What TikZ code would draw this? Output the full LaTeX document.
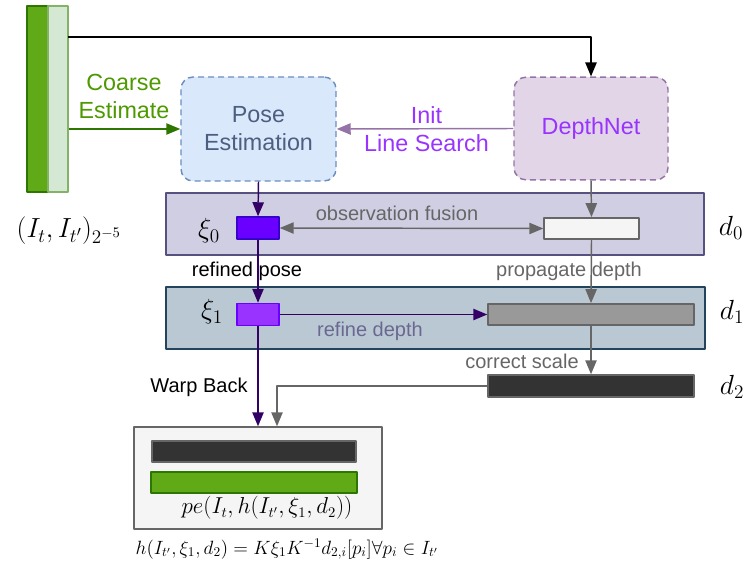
\documentclass[tikz,border=0pt]{standalone}
\usepackage{fontspec}
\setmainfont{Liberation Sans}
\usetikzlibrary{arrows.meta}

\definecolor{cgreen}{HTML}{60A917}
\definecolor{cgreenD}{HTML}{2D7600}
\definecolor{clight}{HTML}{D5E8D4}
\definecolor{clightD}{HTML}{82B366}
\definecolor{ccoarse}{HTML}{4D9900}
\definecolor{cblue}{HTML}{DAE8FC}
\definecolor{cblueD}{HTML}{6C8EBF}
\definecolor{cposeT}{HTML}{4D5F80}
\definecolor{cpurp}{HTML}{E1D5E7}
\definecolor{cpurpD}{HTML}{9673A6}
\definecolor{cviolet}{HTML}{9933FF}
\definecolor{clvl0}{HTML}{D0CEE2}
\definecolor{clvl0D}{HTML}{56517E}
\definecolor{clvl1}{HTML}{BAC8D3}
\definecolor{clvl1D}{HTML}{23445D}
\definecolor{cxi0}{HTML}{6A00FF}
\definecolor{cxi0D}{HTML}{3700CC}
\definecolor{cxi1}{HTML}{9933FF}
\definecolor{cxi1D}{HTML}{6A00FF}
\definecolor{cindigo}{HTML}{330066}
\definecolor{cgray}{HTML}{666666}
\definecolor{cwhite}{HTML}{F5F5F5}
\definecolor{cmid}{HTML}{999999}
\definecolor{cdark}{HTML}{333333}
\definecolor{crefine}{HTML}{6A6890}

\begin{document}
\begin{tikzpicture}[x=0.75pt, y=-0.75pt, line join=round,
    box/.style={draw, line width=1.1pt, inner sep=0pt},
    module/.style={box, rounded corners=9pt, dash pattern=on 4.5pt off 3pt, align=center,
        font=\fontsize{17.5}{21}\selectfont},
    big/.style={font=\fontsize{17.5}{21}\selectfont, align=center},
    small/.style={font=\fontsize{15}{18}\selectfont},
    tip/.style={-{Triangle[length=10.5pt,width=8.5pt]}},
    conn/.style={line width=1.1pt}]
    \useasboundingbox (0,0) rectangle (748,570);

    % 1. input images
    \node[box, draw=cgreenD, fill=cgreen, minimum width=15.75pt, minimum height=139.5pt] (imgT) at (37.5,99) {};
    \node[box, draw=clightD, fill=clight, minimum width=15pt, minimum height=139.5pt] (imgS) at (58,99) {};
    \node[font=\fontsize{22}{26}\selectfont] (imgLbl) at (69,231) {$(I_t, I_{t'})_{2^{-5}}$};

    % 2. networks
    \node[module, draw=cblueD, fill=cblue, text=cposeT, minimum width=116.25pt, minimum height=78pt] (pose) at (258.5,129) {Pose\\Estimation};
    \node[module, draw=cpurpD, fill=cpurp, text=cviolet, minimum width=115.5pt, minimum height=77pt] (depth) at (591,128.5) {DepthNet};

    % 3. levels d0, d1, d2
    \node[box, draw=clvl0D, fill=clvl0, minimum width=403.5pt, minimum height=46.5pt] (lvl0) at (435,224) {};
    \node[box, draw=clvl1D, fill=clvl1, minimum width=404pt, minimum height=46.5pt] (lvl1) at (435.5,318) {};

    \node[box, draw=cxi0D, fill=cxi0, minimum width=31.5pt, minimum height=16.5pt] (xi0) at (258,228) {};
    \node[box, draw=cxi1D, fill=cxi1, minimum width=31.5pt, minimum height=16.5pt] (xi1) at (258,314.5) {};
    \node[box, draw=cgray, fill=cwhite, minimum width=71.25pt, minimum height=16pt] (dep0) at (591.5,228.5) {};
    \node[box, draw=cgray, fill=cmid, minimum width=154.5pt, minimum height=16pt] (dep1) at (591,314.5) {};
    \node[box, draw=cgray, fill=cdark, minimum width=154.5pt, minimum height=16.5pt] (dep2) at (591,386) {};

    % 4. photometric error
    \node[box, draw=cgray, fill=cwhite, minimum width=186pt, minimum height=76.5pt] (res) at (258,478) {};
    \node[box, draw=cgray, fill=cdark, minimum width=153pt, minimum height=15.75pt] (resD) at (254,451.5) {};
    \node[box, draw=cgreenD, fill=cgreen, minimum width=154.5pt, minimum height=15.75pt] (resI) at (254,482.5) {};

    % 5. labels
    \node[font=\fontsize{20}{24}\selectfont] (xi0Lbl) at (209,231) {$\xi_0$};
    \node[font=\fontsize{20}{24}\selectfont] (xi1Lbl) at (212,312) {$\xi_1$};
    \node[font=\fontsize{20}{24}\selectfont] (d0Lbl) at (731,228) {$d_0$};
    \node[font=\fontsize{20}{24}\selectfont] (d1Lbl) at (732,312) {$d_1$};
    \node[font=\fontsize{20}{24}\selectfont] (d2Lbl) at (732,387) {$d_2$};
    \node[font=\fontsize{16}{19}\selectfont] (peLbl) at (267,508) {$pe(I_t, h(I_{t'}, \xi_1, d_2))$};
    \node[font=\fontsize{14}{17}\selectfont] (warpEq) at (287,549) {$h(I_{t'}, \xi_1, d_2) = K \xi_1 K^{-1} d_{2,i}[p_i] \forall p_i \in I_{t'}$};

    \node[big, text=ccoarse] (coarseLbl) at (124,96) {Coarse\\Estimate};
    \node[big, text=cviolet] (initLbl) at (426.5,129) {Init\\Line Search};
    \node[small, text=cgray] (fuseLbl) at (397,213) {observation fusion};
    \node[small] (refLbl) at (247,271) {refined pose};
    \node[small, text=cgray] (propLbl) at (569,271) {propagate depth};
    \node[small, text=crefine] (rdLbl) at (370,331) {refine depth};
    \node[small, text=cgray] (csLbl) at (522,361) {correct scale};
    \node[small] (wbLbl) at (199,387) {Warp Back};

    % 6. connectors
    \coordinate (topL) at (68,37);
    \draw[conn, tip] (topL) -| (depth.north);
    \draw[conn, tip, draw=cgreenD] (imgS.east |- pose.west) -- (pose.west);
    \draw[conn, tip, draw=cpurpD] (depth.west) -- (pose.east);
    \draw[conn, tip, draw=cindigo] (pose.south) -- (xi0.north);
    \draw[conn, tip, draw=cgray] (depth.south) -- (dep0.north);
    \draw[conn, {Triangle[length=10.5pt,width=8.5pt]}-{Triangle[length=10.5pt,width=8.5pt]}, draw=cgray] (xi0.east) -- (dep0.west);
    \draw[conn, tip, draw=cindigo] (xi0.south) -- (xi1.north);
    \draw[conn, tip, draw=cgray] (dep0.south) -- (dep1.north);
    \draw[conn, tip, draw=cindigo] (xi1.east) -- (dep1.west);
    \draw[conn, tip, draw=cgray] (dep1.south) -- (dep2.north);
    \draw[conn, tip, draw=cindigo] (xi1.south) -- (res.north);
    \draw[conn, tip, draw=cgray] (dep2.west) -| ([xshift=14.25pt]res.north);
\end{tikzpicture}
\end{document}
